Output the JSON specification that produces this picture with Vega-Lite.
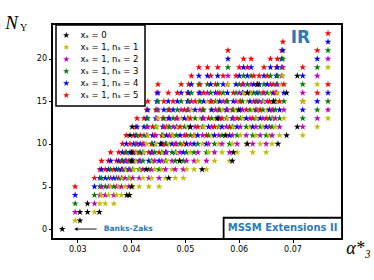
{
"$schema":"https://vega.github.io/schema/vega-lite/v6.json",
"width":290,"height":215,
"autosize":{"type":"none"},
"padding":{"left":52,"top":24,"right":32,"bottom":41},
"background":"white",
"view":{"stroke":"black","strokeWidth":2},
"config":{"legend":{"strokeColor":"black","strokeWidth":1.5,"fillColor":"white","cornerRadius":0,"padding":6}},
"title":{"text":"Y","anchor":"start","frame":"group","orient":"top","align":"left","baseline":"alphabetic","offset":0,"dx":-32,"dy":28,"font":"Liberation Serif","fontSize":10,"fontWeight":"normal","color":"black"},
"layer":[
{"data":{"values":[
{"a":0.0296,"n":1,"s":1},{"a":0.0296,"n":2,"s":2},{"a":0.0296,"n":3,"s":3},{"a":0.0296,"n":4,"s":4},{"a":0.0296,"n":5,"s":5},
{"a":0.0332,"n":2,"s":1},{"a":0.0332,"n":3,"s":2},{"a":0.0332,"n":4,"s":3},{"a":0.0332,"n":5,"s":4},{"a":0.0332,"n":6,"s":5},
{"a":0.0342,"n":3,"s":1},{"a":0.0342,"n":4,"s":2},{"a":0.0342,"n":5,"s":3},{"a":0.0342,"n":6,"s":4},{"a":0.0342,"n":7,"s":5},
{"a":0.0345,"n":4,"s":1},{"a":0.0345,"n":5,"s":2},{"a":0.0345,"n":6,"s":3},{"a":0.0345,"n":7,"s":4},{"a":0.0345,"n":8,"s":5},
{"a":0.0352,"n":3,"s":1},{"a":0.0352,"n":4,"s":2},{"a":0.0352,"n":5,"s":3},{"a":0.0352,"n":6,"s":4},{"a":0.0352,"n":7,"s":5},
{"a":0.0358,"n":4,"s":1},{"a":0.0358,"n":5,"s":2},{"a":0.0358,"n":6,"s":3},{"a":0.0358,"n":7,"s":4},{"a":0.0358,"n":8,"s":5},
{"a":0.0362,"n":5,"s":1},{"a":0.0362,"n":6,"s":2},{"a":0.0362,"n":7,"s":3},{"a":0.0362,"n":8,"s":4},{"a":0.0362,"n":9,"s":5},
{"a":0.0368,"n":3,"s":1},{"a":0.0368,"n":4,"s":2},{"a":0.0368,"n":5,"s":3},{"a":0.0368,"n":6,"s":4},{"a":0.0368,"n":7,"s":5},
{"a":0.0373,"n":4,"s":1},{"a":0.0373,"n":5,"s":2},{"a":0.0373,"n":6,"s":3},{"a":0.0373,"n":7,"s":4},{"a":0.0373,"n":8,"s":5},
{"a":0.0377,"n":5,"s":1},{"a":0.0377,"n":6,"s":2},{"a":0.0377,"n":7,"s":3},{"a":0.0377,"n":8,"s":4},{"a":0.0377,"n":9,"s":5},
{"a":0.0382,"n":4,"s":1},{"a":0.0382,"n":5,"s":2},{"a":0.0382,"n":6,"s":3},{"a":0.0382,"n":7,"s":4},{"a":0.0382,"n":8,"s":5},
{"a":0.0384,"n":6,"s":1},{"a":0.0384,"n":7,"s":2},{"a":0.0384,"n":8,"s":3},{"a":0.0384,"n":9,"s":4},{"a":0.0384,"n":10,"s":5},
{"a":0.0389,"n":5,"s":1},{"a":0.0389,"n":6,"s":2},{"a":0.0389,"n":7,"s":3},{"a":0.0389,"n":8,"s":4},{"a":0.0389,"n":9,"s":5},
{"a":0.0391,"n":7,"s":1},{"a":0.0391,"n":8,"s":2},{"a":0.0391,"n":9,"s":3},{"a":0.0391,"n":10,"s":4},{"a":0.0391,"n":11,"s":5},
{"a":0.0396,"n":4,"s":1},{"a":0.0396,"n":5,"s":2},{"a":0.0396,"n":6,"s":3},{"a":0.0396,"n":7,"s":4},{"a":0.0396,"n":8,"s":5},
{"a":0.0398,"n":6,"s":1},{"a":0.0398,"n":7,"s":2},{"a":0.0398,"n":8,"s":3},{"a":0.0398,"n":9,"s":4},{"a":0.0398,"n":10,"s":5},
{"a":0.0403,"n":5,"s":1},{"a":0.0403,"n":6,"s":2},{"a":0.0403,"n":7,"s":3},{"a":0.0403,"n":8,"s":4},{"a":0.0403,"n":9,"s":5},
{"a":0.0405,"n":7,"s":1},{"a":0.0405,"n":8,"s":2},{"a":0.0405,"n":9,"s":3},{"a":0.0405,"n":10,"s":4},{"a":0.0405,"n":11,"s":5},
{"a":0.0409,"n":8,"s":1},{"a":0.0409,"n":9,"s":2},{"a":0.0409,"n":10,"s":3},{"a":0.0409,"n":11,"s":4},{"a":0.0409,"n":12,"s":5},
{"a":0.0411,"n":9,"s":1},{"a":0.0411,"n":10,"s":2},{"a":0.0411,"n":11,"s":3},{"a":0.0411,"n":12,"s":4},{"a":0.0411,"n":13,"s":5},
{"a":0.0415,"n":5,"s":1},{"a":0.0415,"n":6,"s":2},{"a":0.0415,"n":7,"s":3},{"a":0.0415,"n":8,"s":4},{"a":0.0415,"n":9,"s":5},
{"a":0.0417,"n":7,"s":1},{"a":0.0417,"n":8,"s":2},{"a":0.0417,"n":9,"s":3},{"a":0.0417,"n":10,"s":4},{"a":0.0417,"n":11,"s":5},
{"a":0.0422,"n":6,"s":1},{"a":0.0422,"n":7,"s":2},{"a":0.0422,"n":8,"s":3},{"a":0.0422,"n":9,"s":4},{"a":0.0422,"n":10,"s":5},
{"a":0.0424,"n":9,"s":1},{"a":0.0424,"n":10,"s":2},{"a":0.0424,"n":11,"s":3},{"a":0.0424,"n":12,"s":4},{"a":0.0424,"n":13,"s":5},
{"a":0.0429,"n":10,"s":1},{"a":0.0429,"n":11,"s":2},{"a":0.0429,"n":12,"s":3},{"a":0.0429,"n":13,"s":4},{"a":0.0429,"n":14,"s":5},
{"a":0.0431,"n":11,"s":1},{"a":0.0431,"n":12,"s":2},{"a":0.0431,"n":13,"s":3},{"a":0.0431,"n":14,"s":4},{"a":0.0431,"n":15,"s":5},
{"a":0.0433,"n":5,"s":1},{"a":0.0433,"n":6,"s":2},{"a":0.0433,"n":7,"s":3},{"a":0.0433,"n":8,"s":4},{"a":0.0433,"n":9,"s":5},
{"a":0.0438,"n":6,"s":1},{"a":0.0438,"n":7,"s":2},{"a":0.0438,"n":8,"s":3},{"a":0.0438,"n":9,"s":4},{"a":0.0438,"n":10,"s":5},
{"a":0.0440,"n":8,"s":1},{"a":0.0440,"n":9,"s":2},{"a":0.0440,"n":10,"s":3},{"a":0.0440,"n":11,"s":4},{"a":0.0440,"n":12,"s":5},
{"a":0.0444,"n":7,"s":1},{"a":0.0444,"n":8,"s":2},{"a":0.0444,"n":9,"s":3},{"a":0.0444,"n":10,"s":4},{"a":0.0444,"n":11,"s":5},
{"a":0.0446,"n":10,"s":1},{"a":0.0446,"n":11,"s":2},{"a":0.0446,"n":12,"s":3},{"a":0.0446,"n":13,"s":4},{"a":0.0446,"n":14,"s":5},
{"a":0.0448,"n":12,"s":1},{"a":0.0448,"n":13,"s":2},{"a":0.0448,"n":14,"s":3},{"a":0.0448,"n":15,"s":4},{"a":0.0448,"n":16,"s":5},
{"a":0.0450,"n":13,"s":1},{"a":0.0450,"n":14,"s":2},{"a":0.0450,"n":15,"s":3},{"a":0.0450,"n":16,"s":4},{"a":0.0450,"n":17,"s":5},
{"a":0.0452,"n":5,"s":1},{"a":0.0452,"n":6,"s":2},{"a":0.0452,"n":7,"s":3},{"a":0.0452,"n":8,"s":4},{"a":0.0452,"n":9,"s":5},
{"a":0.0457,"n":7,"s":1},{"a":0.0457,"n":8,"s":2},{"a":0.0457,"n":9,"s":3},{"a":0.0457,"n":10,"s":4},{"a":0.0457,"n":11,"s":5},
{"a":0.0459,"n":9,"s":1},{"a":0.0459,"n":10,"s":2},{"a":0.0459,"n":11,"s":3},{"a":0.0459,"n":12,"s":4},{"a":0.0459,"n":13,"s":5},
{"a":0.0461,"n":11,"s":1},{"a":0.0461,"n":12,"s":2},{"a":0.0461,"n":13,"s":3},{"a":0.0461,"n":14,"s":4},{"a":0.0461,"n":15,"s":5},
{"a":0.0464,"n":6,"s":1},{"a":0.0464,"n":7,"s":2},{"a":0.0464,"n":8,"s":3},{"a":0.0464,"n":9,"s":4},{"a":0.0464,"n":10,"s":5},
{"a":0.0466,"n":8,"s":1},{"a":0.0466,"n":9,"s":2},{"a":0.0466,"n":10,"s":3},{"a":0.0466,"n":11,"s":4},{"a":0.0466,"n":12,"s":5},
{"a":0.0469,"n":12,"s":1},{"a":0.0469,"n":13,"s":2},{"a":0.0469,"n":14,"s":3},{"a":0.0469,"n":15,"s":4},{"a":0.0469,"n":16,"s":5},
{"a":0.0471,"n":10,"s":1},{"a":0.0471,"n":11,"s":2},{"a":0.0471,"n":12,"s":3},{"a":0.0471,"n":13,"s":4},{"a":0.0471,"n":14,"s":5},
{"a":0.0476,"n":7,"s":1},{"a":0.0476,"n":8,"s":2},{"a":0.0476,"n":9,"s":3},{"a":0.0476,"n":10,"s":4},{"a":0.0476,"n":11,"s":5},
{"a":0.0478,"n":11,"s":1},{"a":0.0478,"n":12,"s":2},{"a":0.0478,"n":13,"s":3},{"a":0.0478,"n":14,"s":4},{"a":0.0478,"n":15,"s":5},
{"a":0.0482,"n":6,"s":1},{"a":0.0482,"n":7,"s":2},{"a":0.0482,"n":8,"s":3},{"a":0.0482,"n":9,"s":4},{"a":0.0482,"n":10,"s":5},
{"a":0.0484,"n":9,"s":1},{"a":0.0484,"n":10,"s":2},{"a":0.0484,"n":11,"s":3},{"a":0.0484,"n":12,"s":4},{"a":0.0484,"n":13,"s":5},
{"a":0.0486,"n":12,"s":1},{"a":0.0486,"n":13,"s":2},{"a":0.0486,"n":14,"s":3},{"a":0.0486,"n":15,"s":4},{"a":0.0486,"n":16,"s":5},
{"a":0.0491,"n":8,"s":1},{"a":0.0491,"n":9,"s":2},{"a":0.0491,"n":10,"s":3},{"a":0.0491,"n":11,"s":4},{"a":0.0491,"n":12,"s":5},
{"a":0.0493,"n":13,"s":1},{"a":0.0493,"n":14,"s":2},{"a":0.0493,"n":15,"s":3},{"a":0.0493,"n":16,"s":4},{"a":0.0493,"n":17,"s":5},
{"a":0.0497,"n":6,"s":1},{"a":0.0497,"n":7,"s":2},{"a":0.0497,"n":8,"s":3},{"a":0.0497,"n":9,"s":4},{"a":0.0497,"n":10,"s":5},
{"a":0.0499,"n":10,"s":1},{"a":0.0499,"n":11,"s":2},{"a":0.0499,"n":12,"s":3},{"a":0.0499,"n":13,"s":4},{"a":0.0499,"n":14,"s":5},
{"a":0.0503,"n":7,"s":1},{"a":0.0503,"n":8,"s":2},{"a":0.0503,"n":9,"s":3},{"a":0.0503,"n":10,"s":4},{"a":0.0503,"n":11,"s":5},
{"a":0.0505,"n":12,"s":1},{"a":0.0505,"n":13,"s":2},{"a":0.0505,"n":14,"s":3},{"a":0.0505,"n":15,"s":4},{"a":0.0505,"n":16,"s":5},
{"a":0.0507,"n":13,"s":1},{"a":0.0507,"n":14,"s":2},{"a":0.0507,"n":15,"s":3},{"a":0.0507,"n":16,"s":4},{"a":0.0507,"n":17,"s":5},
{"a":0.0510,"n":9,"s":1},{"a":0.0510,"n":10,"s":2},{"a":0.0510,"n":11,"s":3},{"a":0.0510,"n":12,"s":4},{"a":0.0510,"n":13,"s":5},
{"a":0.0512,"n":14,"s":1},{"a":0.0512,"n":15,"s":2},{"a":0.0512,"n":16,"s":3},{"a":0.0512,"n":17,"s":4},{"a":0.0512,"n":18,"s":5},
{"a":0.0517,"n":7,"s":1},{"a":0.0517,"n":8,"s":2},{"a":0.0517,"n":9,"s":3},{"a":0.0517,"n":10,"s":4},{"a":0.0517,"n":11,"s":5},
{"a":0.0519,"n":11,"s":1},{"a":0.0519,"n":12,"s":2},{"a":0.0519,"n":13,"s":3},{"a":0.0519,"n":14,"s":4},{"a":0.0519,"n":15,"s":5},
{"a":0.0524,"n":8,"s":1},{"a":0.0524,"n":9,"s":2},{"a":0.0524,"n":10,"s":3},{"a":0.0524,"n":11,"s":4},{"a":0.0524,"n":12,"s":5},
{"a":0.0526,"n":15,"s":1},{"a":0.0526,"n":16,"s":2},{"a":0.0526,"n":17,"s":3},{"a":0.0526,"n":18,"s":4},{"a":0.0526,"n":19,"s":5},
{"a":0.0528,"n":13,"s":1},{"a":0.0528,"n":14,"s":2},{"a":0.0528,"n":15,"s":3},{"a":0.0528,"n":16,"s":4},{"a":0.0528,"n":17,"s":5},
{"a":0.0533,"n":10,"s":1},{"a":0.0533,"n":11,"s":2},{"a":0.0533,"n":12,"s":3},{"a":0.0533,"n":13,"s":4},{"a":0.0533,"n":14,"s":5},
{"a":0.0535,"n":12,"s":1},{"a":0.0535,"n":13,"s":2},{"a":0.0535,"n":14,"s":3},{"a":0.0535,"n":15,"s":4},{"a":0.0535,"n":16,"s":5},
{"a":0.0540,"n":7,"s":1},{"a":0.0540,"n":8,"s":2},{"a":0.0540,"n":9,"s":3},{"a":0.0540,"n":10,"s":4},{"a":0.0540,"n":11,"s":5},
{"a":0.0542,"n":15,"s":1},{"a":0.0542,"n":16,"s":2},{"a":0.0542,"n":17,"s":3},{"a":0.0542,"n":18,"s":4},{"a":0.0542,"n":19,"s":5},
{"a":0.0544,"n":9,"s":1},{"a":0.0544,"n":10,"s":2},{"a":0.0544,"n":11,"s":3},{"a":0.0544,"n":12,"s":4},{"a":0.0544,"n":13,"s":5},
{"a":0.0548,"n":14,"s":1},{"a":0.0548,"n":15,"s":2},{"a":0.0548,"n":16,"s":3},{"a":0.0548,"n":17,"s":4},{"a":0.0548,"n":18,"s":5},
{"a":0.0550,"n":11,"s":1},{"a":0.0550,"n":12,"s":2},{"a":0.0550,"n":13,"s":3},{"a":0.0550,"n":14,"s":4},{"a":0.0550,"n":15,"s":5},
{"a":0.0555,"n":8,"s":1},{"a":0.0555,"n":9,"s":2},{"a":0.0555,"n":10,"s":3},{"a":0.0555,"n":11,"s":4},{"a":0.0555,"n":12,"s":5},
{"a":0.0557,"n":13,"s":1},{"a":0.0557,"n":14,"s":2},{"a":0.0557,"n":15,"s":3},{"a":0.0557,"n":16,"s":4},{"a":0.0557,"n":17,"s":5},
{"a":0.0561,"n":15,"s":1},{"a":0.0561,"n":16,"s":2},{"a":0.0561,"n":17,"s":3},{"a":0.0561,"n":18,"s":4},{"a":0.0561,"n":19,"s":5},
{"a":0.0563,"n":10,"s":1},{"a":0.0563,"n":11,"s":2},{"a":0.0563,"n":12,"s":3},{"a":0.0563,"n":13,"s":4},{"a":0.0563,"n":14,"s":5},
{"a":0.0565,"n":12,"s":1},{"a":0.0565,"n":13,"s":2},{"a":0.0565,"n":14,"s":3},{"a":0.0565,"n":15,"s":4},{"a":0.0565,"n":16,"s":5},
{"a":0.0569,"n":9,"s":1},{"a":0.0569,"n":10,"s":2},{"a":0.0569,"n":11,"s":3},{"a":0.0569,"n":12,"s":4},{"a":0.0569,"n":13,"s":5},
{"a":0.0571,"n":14,"s":1},{"a":0.0571,"n":15,"s":2},{"a":0.0571,"n":16,"s":3},{"a":0.0571,"n":17,"s":4},{"a":0.0571,"n":18,"s":5},
{"a":0.0577,"n":11,"s":1},{"a":0.0577,"n":12,"s":2},{"a":0.0577,"n":13,"s":3},{"a":0.0577,"n":14,"s":4},{"a":0.0577,"n":15,"s":5},
{"a":0.0579,"n":13,"s":1},{"a":0.0579,"n":14,"s":2},{"a":0.0579,"n":15,"s":3},{"a":0.0579,"n":16,"s":4},{"a":0.0579,"n":17,"s":5},
{"a":0.0580,"n":17,"s":1},{"a":0.0580,"n":18,"s":2},{"a":0.0580,"n":19,"s":3},{"a":0.0580,"n":20,"s":4},{"a":0.0580,"n":21,"s":5},
{"a":0.0583,"n":8,"s":1},{"a":0.0583,"n":9,"s":2},{"a":0.0583,"n":10,"s":3},{"a":0.0583,"n":11,"s":4},{"a":0.0583,"n":12,"s":5},
{"a":0.0588,"n":10,"s":1},{"a":0.0588,"n":11,"s":2},{"a":0.0588,"n":12,"s":3},{"a":0.0588,"n":13,"s":4},{"a":0.0588,"n":14,"s":5},
{"a":0.0590,"n":12,"s":1},{"a":0.0590,"n":13,"s":2},{"a":0.0590,"n":14,"s":3},{"a":0.0590,"n":15,"s":4},{"a":0.0590,"n":16,"s":5},
{"a":0.0595,"n":14,"s":1},{"a":0.0595,"n":15,"s":2},{"a":0.0595,"n":16,"s":3},{"a":0.0595,"n":17,"s":4},{"a":0.0595,"n":18,"s":5},
{"a":0.0597,"n":9,"s":1},{"a":0.0597,"n":10,"s":2},{"a":0.0597,"n":11,"s":3},{"a":0.0597,"n":12,"s":4},{"a":0.0597,"n":13,"s":5},
{"a":0.0601,"n":15,"s":1},{"a":0.0601,"n":16,"s":2},{"a":0.0601,"n":17,"s":3},{"a":0.0601,"n":18,"s":4},{"a":0.0601,"n":19,"s":5},
{"a":0.0603,"n":11,"s":1},{"a":0.0603,"n":12,"s":2},{"a":0.0603,"n":13,"s":3},{"a":0.0603,"n":14,"s":4},{"a":0.0603,"n":15,"s":5},
{"a":0.0607,"n":13,"s":1},{"a":0.0607,"n":14,"s":2},{"a":0.0607,"n":15,"s":3},{"a":0.0607,"n":16,"s":4},{"a":0.0607,"n":17,"s":5},
{"a":0.0609,"n":16,"s":1},{"a":0.0609,"n":17,"s":2},{"a":0.0609,"n":18,"s":3},{"a":0.0609,"n":19,"s":4},{"a":0.0609,"n":20,"s":5},
{"a":0.0614,"n":10,"s":1},{"a":0.0614,"n":11,"s":2},{"a":0.0614,"n":12,"s":3},{"a":0.0614,"n":13,"s":4},{"a":0.0614,"n":14,"s":5},
{"a":0.0616,"n":15,"s":1},{"a":0.0616,"n":16,"s":2},{"a":0.0616,"n":17,"s":3},{"a":0.0616,"n":18,"s":4},{"a":0.0616,"n":19,"s":5},
{"a":0.0621,"n":12,"s":1},{"a":0.0621,"n":13,"s":2},{"a":0.0621,"n":14,"s":3},{"a":0.0621,"n":15,"s":4},{"a":0.0621,"n":16,"s":5},
{"a":0.0623,"n":16,"s":1},{"a":0.0623,"n":17,"s":2},{"a":0.0623,"n":18,"s":3},{"a":0.0623,"n":19,"s":4},{"a":0.0623,"n":20,"s":5},
{"a":0.0626,"n":9,"s":1},{"a":0.0626,"n":10,"s":2},{"a":0.0626,"n":11,"s":3},{"a":0.0626,"n":12,"s":4},{"a":0.0626,"n":13,"s":5},
{"a":0.0628,"n":14,"s":1},{"a":0.0628,"n":15,"s":2},{"a":0.0628,"n":16,"s":3},{"a":0.0628,"n":17,"s":4},{"a":0.0628,"n":18,"s":5},
{"a":0.0632,"n":11,"s":1},{"a":0.0632,"n":12,"s":2},{"a":0.0632,"n":13,"s":3},{"a":0.0632,"n":14,"s":4},{"a":0.0632,"n":15,"s":5},
{"a":0.0634,"n":13,"s":1},{"a":0.0634,"n":14,"s":2},{"a":0.0634,"n":15,"s":3},{"a":0.0634,"n":16,"s":4},{"a":0.0634,"n":17,"s":5},
{"a":0.0638,"n":14,"s":1},{"a":0.0638,"n":15,"s":2},{"a":0.0638,"n":16,"s":3},{"a":0.0638,"n":17,"s":4},{"a":0.0638,"n":18,"s":5},
{"a":0.0640,"n":10,"s":1},{"a":0.0640,"n":11,"s":2},{"a":0.0640,"n":12,"s":3},{"a":0.0640,"n":13,"s":4},{"a":0.0640,"n":14,"s":5},
{"a":0.0645,"n":12,"s":1},{"a":0.0645,"n":13,"s":2},{"a":0.0645,"n":14,"s":3},{"a":0.0645,"n":15,"s":4},{"a":0.0645,"n":16,"s":5},
{"a":0.0647,"n":15,"s":1},{"a":0.0647,"n":16,"s":2},{"a":0.0647,"n":17,"s":3},{"a":0.0647,"n":18,"s":4},{"a":0.0647,"n":19,"s":5},
{"a":0.0651,"n":9,"s":1},{"a":0.0651,"n":10,"s":2},{"a":0.0651,"n":11,"s":3},{"a":0.0651,"n":12,"s":4},{"a":0.0651,"n":13,"s":5},
{"a":0.0653,"n":14,"s":1},{"a":0.0653,"n":15,"s":2},{"a":0.0653,"n":16,"s":3},{"a":0.0653,"n":17,"s":4},{"a":0.0653,"n":18,"s":5},
{"a":0.0657,"n":11,"s":1},{"a":0.0657,"n":12,"s":2},{"a":0.0657,"n":13,"s":3},{"a":0.0657,"n":14,"s":4},{"a":0.0657,"n":15,"s":5},
{"a":0.0659,"n":16,"s":1},{"a":0.0659,"n":17,"s":2},{"a":0.0659,"n":18,"s":3},{"a":0.0659,"n":19,"s":4},{"a":0.0659,"n":20,"s":5},
{"a":0.0662,"n":10,"s":1},{"a":0.0662,"n":11,"s":2},{"a":0.0662,"n":12,"s":3},{"a":0.0662,"n":13,"s":4},{"a":0.0662,"n":14,"s":5},
{"a":0.0664,"n":13,"s":1},{"a":0.0664,"n":14,"s":2},{"a":0.0664,"n":15,"s":3},{"a":0.0664,"n":16,"s":4},{"a":0.0664,"n":17,"s":5},
{"a":0.0668,"n":12,"s":1},{"a":0.0668,"n":13,"s":2},{"a":0.0668,"n":14,"s":3},{"a":0.0668,"n":15,"s":4},{"a":0.0668,"n":16,"s":5},
{"a":0.0670,"n":15,"s":1},{"a":0.0670,"n":16,"s":2},{"a":0.0670,"n":17,"s":3},{"a":0.0670,"n":18,"s":4},{"a":0.0670,"n":19,"s":5},
{"a":0.0672,"n":16,"s":1},{"a":0.0672,"n":17,"s":2},{"a":0.0672,"n":18,"s":3},{"a":0.0672,"n":19,"s":4},{"a":0.0672,"n":20,"s":5},
{"a":0.0676,"n":11,"s":1},{"a":0.0676,"n":12,"s":2},{"a":0.0676,"n":13,"s":3},{"a":0.0676,"n":14,"s":4},{"a":0.0676,"n":15,"s":5},
{"a":0.0680,"n":17,"s":1},{"a":0.0680,"n":18,"s":2},{"a":0.0680,"n":19,"s":3},{"a":0.0680,"n":20,"s":4},{"a":0.0680,"n":21,"s":5},
{"a":0.0682,"n":18,"s":1},{"a":0.0682,"n":19,"s":2},{"a":0.0682,"n":20,"s":3},{"a":0.0682,"n":21,"s":4},{"a":0.0682,"n":22,"s":5},
{"a":0.0684,"n":13,"s":1},{"a":0.0684,"n":14,"s":2},{"a":0.0684,"n":15,"s":3},{"a":0.0684,"n":16,"s":4},{"a":0.0684,"n":17,"s":5},
{"a":0.0719,"n":11,"s":1},{"a":0.0719,"n":12,"s":2},{"a":0.0719,"n":13,"s":3},{"a":0.0719,"n":14,"s":4},{"a":0.0719,"n":15,"s":5},
{"a":0.0719,"n":15,"s":1},{"a":0.0719,"n":16,"s":2},{"a":0.0719,"n":17,"s":3},{"a":0.0719,"n":18,"s":4},{"a":0.0719,"n":19,"s":5},
{"a":0.0746,"n":12,"s":1},{"a":0.0746,"n":13,"s":2},{"a":0.0746,"n":14,"s":3},{"a":0.0746,"n":15,"s":4},{"a":0.0746,"n":16,"s":5},
{"a":0.0746,"n":17,"s":1},{"a":0.0746,"n":18,"s":2},{"a":0.0746,"n":19,"s":3},{"a":0.0746,"n":20,"s":4},{"a":0.0746,"n":21,"s":5},
{"a":0.0766,"n":13,"s":1},{"a":0.0766,"n":14,"s":2},{"a":0.0766,"n":15,"s":3},{"a":0.0766,"n":16,"s":4},{"a":0.0766,"n":17,"s":5},
{"a":0.0766,"n":19,"s":1},{"a":0.0766,"n":20,"s":2},{"a":0.0766,"n":21,"s":3},{"a":0.0766,"n":22,"s":4},{"a":0.0766,"n":23,"s":5},
{"a":0.0272,"n":0,"s":0},{"a":0.0305,"n":1,"s":0},{"a":0.0305,"n":2,"s":0},{"a":0.0319,"n":2,"s":0},{"a":0.0341,"n":2,"s":0},{"a":0.0319,"n":3,"s":0},
{"a":0.0392,"n":4,"s":0},{"a":0.0397,"n":4,"s":0},{"a":0.0401,"n":5,"s":0},{"a":0.0401,"n":8,"s":0},{"a":0.0401,"n":9,"s":0},{"a":0.0398,"n":11,"s":0},
{"a":0.0402,"n":12,"s":0},{"a":0.0428,"n":7,"s":0},{"a":0.0470,"n":6,"s":0},{"a":0.0455,"n":10,"s":0},{"a":0.0490,"n":8,"s":0},{"a":0.0532,"n":7,"s":0},
{"a":0.0510,"n":12,"s":0},{"a":0.0588,"n":8,"s":0},{"a":0.0590,"n":9,"s":0},{"a":0.0616,"n":10,"s":0},{"a":0.0575,"n":11,"s":0},{"a":0.0560,"n":13,"s":0},
{"a":0.0600,"n":14,"s":0},{"a":0.0673,"n":10,"s":0},{"a":0.0689,"n":11,"s":0},{"a":0.0709,"n":12,"s":0},{"a":0.0635,"n":17,"s":0},{"a":0.0616,"n":16,"s":0},
{"a":0.0689,"n":16,"s":0},{"a":0.0709,"n":18,"s":0},{"a":0.0665,"n":15,"s":0}
]},
"mark":{"type":"point","filled":true,"opacity":1,"size":52,"strokeWidth":0,"shape":"M0,-1L0.2245,-0.309L0.951,-0.309L0.363,0.118L0.588,0.809L0,0.382L-0.588,0.809L-0.363,0.118L-0.951,-0.309L-0.2245,-0.309Z"},
"encoding":{
"x":{"field":"a","type":"quantitative","scale":{"domain":[0.0253,0.0792],"nice":false,"zero":false},
"axis":{"values":[0.03,0.04,0.05,0.06,0.07],"format":".2f","grid":false,"domain":false,"tickColor":"black","tickSize":3.5,"labelFont":"DejaVu Sans","labelFontSize":8,"labelColor":"black","labelPadding":2.5,"title":"α*₃","titleFont":"Liberation Serif","titleFontStyle":"italic","titleFontWeight":"normal","titleFontSize":18,"titleColor":"black","titleX":306,"titleY":14,"titleAlign":"center","titleBaseline":"alphabetic"}},
"y":{"field":"n","type":"quantitative","scale":{"domain":[-1.17,24.1],"nice":false,"zero":false},
"axis":{"values":[0,5,10,15,20],"grid":false,"domain":false,"tickColor":"black","tickSize":3.5,"labelFont":"DejaVu Sans","labelFontSize":8,"labelColor":"black","labelPadding":2,"title":"N","titleAngle":0,"titleFont":"Liberation Serif","titleFontStyle":"italic","titleFontWeight":"normal","titleFontSize":19,"titleColor":"black","titleX":-41,"titleY":4,"titleAlign":"center","titleBaseline":"alphabetic"}},
"color":{"field":"s","type":"nominal","scale":{"domain":[0,1,2,3,4,5],"range":["#000000","#bfbf00","#bf00bf","#008000","#0000ff","#ff0000"]},
"legend":{"orient":"none","legendX":4,"legendY":1,"title":null,"symbolType":"M0,-1L0.2245,-0.309L0.951,-0.309L0.363,0.118L0.588,0.809L0,0.382L-0.588,0.809L-0.363,0.118L-0.951,-0.309L-0.2245,-0.309Z","symbolSize":45,"symbolStrokeWidth":0,"symbolOpacity":1,"labelFont":"DejaVu Sans","labelFontSize":8.5,"labelColor":"black","labelOffset":10,"rowPadding":3,"labelExpr":"datum.value == 0 ? 'xₛ = 0' : 'xₛ = 1, nₛ = ' + datum.value"}}
}},
{"data":{"values":[{"a":0.0336,"a2":0.0298,"n":0}]},
"mark":{"type":"rule","color":"black","strokeWidth":0.9},
"encoding":{"x":{"field":"a","type":"quantitative"},"x2":{"field":"a2"},"y":{"field":"n","type":"quantitative"}}},
{"data":{"values":[{"a":0.02975,"n":0}]},
"mark":{"type":"point","shape":"triangle-left","filled":true,"color":"black","size":14,"opacity":1,"strokeWidth":0},
"encoding":{"x":{"field":"a","type":"quantitative"},"y":{"field":"n","type":"quantitative"}}},
{"data":{"values":[{"a":0.0349,"n":0,"t":"Banks-Zaks"}]},
"mark":{"type":"text","align":"left","baseline":"middle","font":"DejaVu Sans","fontWeight":"bold","fontSize":7.6,"color":"#2b7bba"},
"encoding":{"x":{"field":"a","type":"quantitative"},"y":{"field":"n","type":"quantitative"},"text":{"field":"t"}}},
{"data":{"values":[{"a":0.07147,"n":22.5,"t":"IR"}]},
"mark":{"type":"text","align":"center","baseline":"middle","font":"DejaVu Sans","fontWeight":"bold","fontSize":17,"color":"#2b7bba"},
"encoding":{"x":{"field":"a","type":"quantitative"},"y":{"field":"n","type":"quantitative"},"text":{"field":"t"}}},
{"data":{"values":[{"a":0.0572,"a2":0.0792,"n":-1.17,"n2":1.33}]},
"mark":{"type":"rect","fill":"white","stroke":"black","strokeWidth":1.8},
"encoding":{"x":{"field":"a","type":"quantitative"},"x2":{"field":"a2"},"y":{"field":"n","type":"quantitative"},"y2":{"field":"n2"}}},
{"data":{"values":[{"a":0.06816,"n":0.09,"t":"MSSM Extensions II"}]},
"mark":{"type":"text","align":"center","baseline":"middle","font":"DejaVu Sans","fontWeight":"bold","fontSize":10,"color":"#2b7bba"},
"encoding":{"x":{"field":"a","type":"quantitative"},"y":{"field":"n","type":"quantitative"},"text":{"field":"t"}}}
]
}
